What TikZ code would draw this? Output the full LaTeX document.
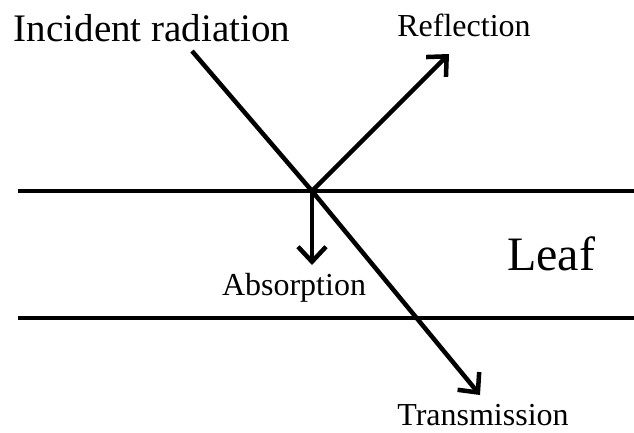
\documentclass[tikz,border=0pt]{standalone}
\usepackage{fontspec}
\setmainfont{Liberation Serif}
\usetikzlibrary{arrows.meta, positioning}

\begin{document}
\begin{tikzpicture}[
    x=1pt, y=-1pt,
    label/.style={inner sep=0pt, anchor=base, font=\fontsize{32}{34}\selectfont},
    surface/.style={line width=4.5pt},
    ray/.style={line width=4.5pt},
    arrow/.style={ray, -{Straight Barb[length=15pt, width=28pt, line width=4.5pt]}}
]
\useasboundingbox (0,0) rectangle (634,432);

% Leaf surfaces
\coordinate (topL) at (18,191);
\coordinate (topR) at (634,191);
\coordinate (botL) at (18,318);
\coordinate (botR) at (634,318);
\draw[surface] (topL) -- (topR);
\draw[surface] (botL) -- (botR);

% Ray points
\coordinate (hit) at (312,191);
\coordinate (src) at (192,51);
\coordinate (refl) at (449,54);
\coordinate (abs) at (312,265);
\coordinate (trans) at (480,395);

% Labels
\node[label, font=\fontsize{39}{42}\selectfont] (inc) at (152,41) {Incident radiation};
\node[label] (reflt) at (464,36) {Reflection};
\node[label] (abst) at (294,295) {Absorption};
\node[label] (transt) at (483,425) {Transmission};
\node[label, font=\fontsize{48}{50}\selectfont] (leaf) at (551,270) {Leaf};

% Rays
\draw[ray] (src) -- (hit);
\draw[arrow] (hit) -- (refl);
\draw[arrow] (hit) -- (abs);
\draw[arrow] (hit) -- (trans);

\end{tikzpicture}
\end{document}
